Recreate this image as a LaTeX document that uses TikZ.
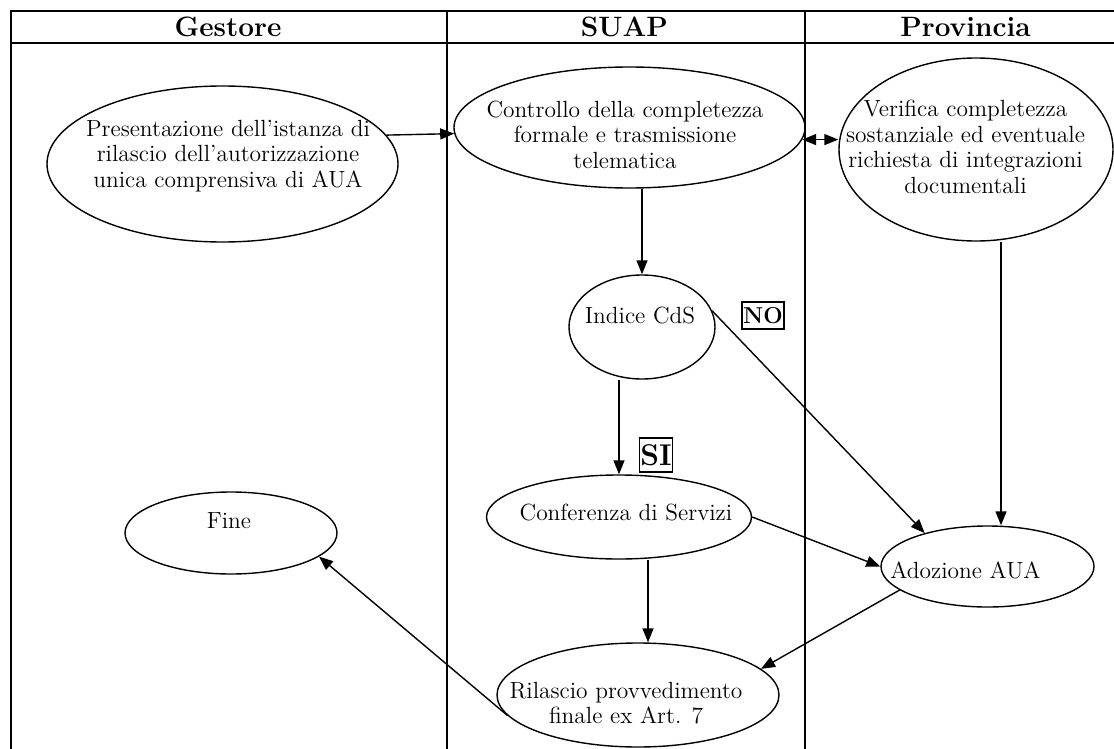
\documentclass[tikz,border=0pt]{standalone}
\usepackage{tikz}
\usetikzlibrary{shapes.geometric,arrows.meta,calc}

\tikzset{
    oval/.style={ellipse, draw, line width=0.7pt, inner sep=0pt},
    txt/.style={align=center, inner sep=0pt, font=\fontsize{11.7}{12.75}\selectfont},
    head/.style={anchor=base, inner sep=0pt, font=\fontsize{14}{16}\selectfont\bfseries},
    answer/.style={draw, line width=0.7pt, inner sep=0.5pt},
    flow/.style={->, line width=0.7pt},
    lane/.style={line width=1pt}
}

\begin{document}
\begin{tikzpicture}[x=0.5pt, y=-0.5pt, >={Triangle[length=7pt,width=5.5pt]}]
    \useasboundingbox (0,0) rectangle (1114,749);

    % swimlane table
    \draw[lane] (11,749) -- (11,11) -- (1114,11);
    \draw[lane] (11,43) -- (1114,43);
    \draw[lane] (446.5,11) -- (446.5,749);
    \draw[lane] (805,11) -- (805,749);

    \node[head] (gestore) at (228,37) {Gestore};
    \node[head] (suap) at (624.5,37) {SUAP};
    \node[head] (provincia) at (965.5,37) {Provincia};

    % process steps
    \node[oval, minimum width=175.5pt, minimum height=78pt] (presentazione) at (222.5,164) {};
    \node[txt] (presentazione-t) at (228,156) {Presentazione dell'istanza di\\rilascio dell'autorizzazione\\unica comprensiva di AUA};

    \node[oval, minimum width=175.5pt, minimum height=60.5pt] (controllo) at (629.5,127.5) {};
    \node[txt] (controllo-t) at (625,134.5) {Controllo della completezza\\formale e trasmissione\\telematica};

    \node[oval, minimum width=137pt, minimum height=91.5pt] (verifica) at (976,149.5) {};
    \node[txt] (verifica-t) at (965.5,147) {Verifica completezza\\sostanziale ed eventuale\\richiesta di integrazioni\\documentali};

    \node[oval, minimum width=73pt, minimum height=52pt] (indice) at (642,327) {};
    \node[txt, anchor=base] (indice-t) at (640,323) {Indice CdS};

    \node[oval, minimum width=132.5pt, minimum height=42pt] (conferenza) at (619,517) {};
    \node[txt, anchor=base] (conferenza-t) at (626,520) {Conferenza di Servizi};

    \node[oval, minimum width=106.5pt, minimum height=40.5pt] (adozione) at (987.5,566.5) {};
    \node[txt, anchor=base] (adozione-t) at (965.5,578) {Adozione AUA};

    \node[oval, minimum width=141pt, minimum height=52pt] (rilascio) at (638,695) {};
    \node[txt] (rilascio-t) at (626,703) {Rilascio provvedimento\\finale ex Art. 7};

    \node[oval, minimum width=106pt, minimum height=41pt] (fine) at (231,533) {};
    \node[txt, anchor=base] (fine-t) at (229,528) {Fine};

    % decision labels
    \node[answer, minimum width=21pt, minimum height=13.5pt, font=\fontsize{11.5}{13}\selectfont\bfseries] (no) at (763,315.5) {NO};
    \node[answer, minimum width=15.5pt, minimum height=17pt, font=\fontsize{15}{17}\selectfont\bfseries] (si) at (656,455) {SI};

    % connectors
    \draw[flow] (presentazione.10) -- (controllo.182);
    \draw[flow, <->] (controllo.-4) -- (verifica.west |- controllo.-4);
    \draw[flow] (indice.north |- controllo.south) -- (indice.north);
    \draw[flow] (indice.13) -- (adozione.152);
    \draw[flow] ([xshift=6.75pt]adozione.north |- verifica.south) -- ([xshift=6.75pt]adozione.north);
    \draw[flow] (conferenza.north |- indice.south) -- (conferenza.north);
    \draw[flow] (conferenza.east) -- (adozione.west);
    \draw[flow] ([xshift=5pt]rilascio.north |- conferenza.south) -- ([xshift=5pt]rilascio.north);
    \draw[flow] (adozione.195) -- (rilascio.12);
    \draw[flow] (rilascio.189) -- (fine.345);
\end{tikzpicture}
\end{document}
